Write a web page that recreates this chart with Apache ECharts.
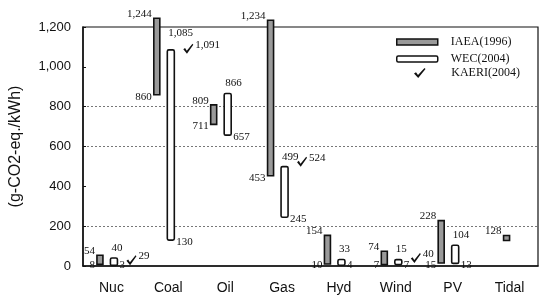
<!DOCTYPE html>
<html lang="en">
<head>
<meta charset="UTF-8">
<title>CO2 emissions by source</title>
<script src="https://cdn.jsdelivr.net/npm/echarts@6/dist/echarts.min.js"></script>
<style>
  html, body { margin: 0; padding: 0; background: #fff; }
</style>
</head>
<body>
<div id="main" style="width: 542px;height:295px;"></div>
<script type="text/javascript">
// data
var categories = ['Nuc', 'Coal', 'Oil', 'Gas', 'Hyd', 'Wind', 'PV', 'Tidal'];
var iaeaLow  = [8, 860, 711, 453, 10, 7, 15, 128];
var iaeaHigh = [54, 1244, 809, 1234, 154, 74, 228, 128];
var wecLow   = [3, 130, 657, 245, 4, 7, 13, null];
var wecHigh  = [40, 1085, 866, 499, 33, 15, 104, null];
var kaeri    = [29, 1091, null, 524, null, 40, null, null];
var yTicks   = [0, 200, 400, 600, 800, 1000, 1200];
// which gridlines are drawn dotted in the original
var dottedAt = [200, 600, 800];

var serif = '11px "Liberation Serif", "DejaVu Serif", serif';
var checkD = 'M0,5.5 L2,4.2 L4,7 L10.5,0 L11.5,1 L4.2,10 Z';

function fmt(v) {
    return v.toLocaleString('en-US');
}

function txt(s, x, y, align) {
    return { type: 'text', style: { text: s, x: x, y: y, align: align, verticalAlign: 'middle', font: serif, fill: '#111' } };
}

function rangeSeries(name, low, high, side, fill, width) {
    var data = [];
    for (var i = 0; i < categories.length; i++) {
        if (low[i] == null) continue;
        data.push([i, low[i], high[i]]);
    }
    return {
        name: name,
        type: 'custom',
        clip: false,
        data: data,
        renderItem: function (params, api) {
            var i = api.value(0), lo = api.value(1), hi = api.value(2);
            var pLo = api.coord([i, lo]), pHi = api.coord([i, hi]);
            var alone = wecLow[i] == null;
            var dx = alone ? -3 : (side === 'left' ? -11.5 : 2.5);
            var x = pLo[0] + dx - width / 2;
            var top = pHi[1], bot = pLo[1];
            if (bot - top < 5) top = bot - 5;
            var kids = [{
                type: 'rect',
                shape: { x: x, y: top, width: width, height: bot - top, r: side === 'left' ? 0 : 1.5 },
                style: { fill: fill, stroke: '#111', lineWidth: 1.6 }
            }];
            var loY = Math.min(bot + 2, 265);
            if (side === 'left') {
                kids.push(txt(fmt(hi), x - 2, top - 4, 'right'));
                if (lo !== hi) kids.push(txt(fmt(lo), x - 2, loY, 'right'));
            } else {
                var lift = hi > 1000 ? 17 : 10;
                kids.push(txt(fmt(hi), x + 1, top - lift, 'left'));
                kids.push(txt(fmt(lo), x + width + 2, loY, 'left'));
            }
            return { type: 'group', children: kids };
        }
    };
}

var kaeriData = [];
for (var k = 0; k < kaeri.length; k++) {
    if (kaeri[k] != null) kaeriData.push([k, kaeri[k]]);
}

var splitColors = yTicks.map(function (t) {
    return dottedAt.indexOf(t) >= 0 ? '#777' : 'rgba(0,0,0,0)';
});

var legendText = { fontFamily: '"Liberation Serif", serif', fontSize: 12, color: '#111' };

var myChart = echarts.init(document.getElementById('main'));
var option = {
    animation: false,
    grid: { left: 78, right: 4, top: 27, bottom: 29, show: true, borderColor: '#111', borderWidth: 1.2 },
    legend: [
        {
            left: 396, top: 36, padding: 0, itemWidth: 41, itemHeight: 6, selectedMode: false,
            textStyle: Object.assign({ padding: [0, 0, 0, 8] }, legendText),
            data: [{ name: 'IAEA(1996)', icon: 'rect', itemStyle: { color: '#9a9a9a', borderColor: '#111', borderWidth: 1.5 } }]
        },
        {
            left: 396, top: 53, padding: 0, itemWidth: 41, itemHeight: 6, selectedMode: false,
            textStyle: Object.assign({ padding: [0, 0, 0, 8] }, legendText),
            data: [{ name: 'WEC(2004)', icon: 'roundRect', itemStyle: { color: '#fff', borderColor: '#111', borderWidth: 1.5 } }]
        },
        {
            left: 414, top: 67, padding: 0, itemWidth: 41, itemHeight: 10, selectedMode: false,
            textStyle: Object.assign({ padding: [0, 0, 0, 6] }, legendText),
            data: [{ name: 'KAERI(2004)', icon: 'path://' + checkD, itemStyle: { color: '#111' } }]
        }
    ],
    xAxis: {
        type: 'category',
        data: categories,
        axisLine: { lineStyle: { color: '#111', width: 1.5 } },
        axisTick: { show: false },
        axisLabel: { fontFamily: '"Liberation Sans", Arial, sans-serif', fontSize: 14, color: '#111', margin: 15 },
        splitLine: { show: false }
    },
    yAxis: {
        type: 'value',
        min: 0,
        max: 1200,
        interval: 200,
        name: '(g-CO2-eq./kWh)',
        nameLocation: 'middle',
        nameGap: 59,
        nameTextStyle: { fontFamily: '"Liberation Sans", Arial, sans-serif', fontSize: 16, color: '#111' },
        axisLine: { show: true, lineStyle: { color: '#111', width: 1.5 } },
        axisTick: { show: true, inside: true, length: 3, lineStyle: { color: '#111' } },
        axisLabel: {
            fontFamily: '"Liberation Sans", Arial, sans-serif', fontSize: 13, color: '#111', margin: 12,
            formatter: function (v) { return fmt(v); }
        },
        splitLine: { show: true, lineStyle: { color: splitColors, type: [2, 2], width: 1 } }
    },
    series: [
        rangeSeries('IAEA(1996)', iaeaLow, iaeaHigh, 'left', '#9a9a9a', 6),
        rangeSeries('WEC(2004)', wecLow, wecHigh, 'right', '#ffffff', 7),
        {
            name: 'KAERI(2004)',
            type: 'custom',
            clip: false,
            data: kaeriData,
            renderItem: function (params, api) {
                var p = api.coord([api.value(0), api.value(1)]);
                var cx = p[0] + 20, cy = p[1];
                return {
                    type: 'group',
                    children: [
                        {
                            type: 'path',
                            shape: { pathData: checkD, x: cx - 5, y: cy - 5, width: 10, height: 10, layout: 'cover' },
                            style: { fill: '#111' }
                        },
                        txt(fmt(api.value(1)), cx + 7, cy - 4, 'left')
                    ]
                };
            }
        }
    ]
};
myChart.setOption(option);
</script>
</body>
</html>
